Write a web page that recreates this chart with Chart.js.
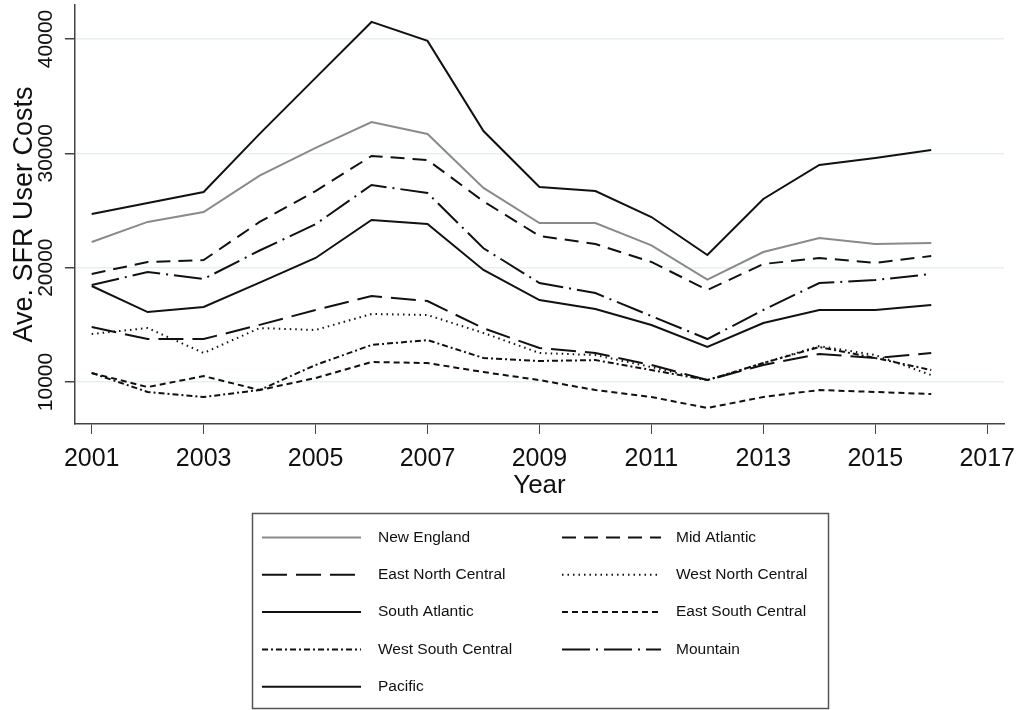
<!DOCTYPE html>
<html>
<head>
<meta charset="utf-8">
<script src="https://cdn.jsdelivr.net/npm/chart.js@4.4.0/dist/chart.umd.min.js"></script>
<style>
  html, body { margin: 0; padding: 0; background: #fff; }
  #wrap { width: 1021px; height: 710px; }
</style>
</head>
<body>
<div id="wrap"><canvas id="chart" width="1021" height="710"></canvas></div>
<script>
// data
const years = [2001, 2002, 2003, 2004, 2005, 2006, 2007, 2008, 2009, 2010, 2011, 2012, 2013, 2014, 2015, 2016];
const newEngland       = [22250, 24000, 24870, 28050, 30470, 32740, 31690, 26970, 23900, 23900, 21950, 18950, 21370, 22600, 22070, 22160];
const midAtlantic      = [19450, 20500, 20670, 24000, 26700, 29770, 29420, 25800, 22770, 22070, 20500, 18050, 20320, 20850, 20410, 21020];
const eastNorthCentral = [14810, 13760, 13760, 15000, 16300, 17520, 17080, 14700, 12970, 12540, 11490, 10170, 11490, 12450, 12100, 12540];
const westNorthCentral = [14200, 14720, 12540, 14720, 14550, 15950, 15860, 14290, 12540, 12360, 11310, 10170, 11660, 13150, 12360, 10610];
const southAtlantic    = [18400, 16120, 16560, 18700, 20850, 24170, 23820, 19800, 17170, 16380, 14990, 13060, 15160, 16300, 16300, 16730];
const eastSouthCentral = [10790, 9560, 10520, 9300, 10350, 11750, 11660, 10870, 10170, 9300, 8690, 7730, 8690, 9300, 9130, 8950];
const westSouthCentral = [10790, 9130, 8690, 9300, 11490, 13240, 13670, 12100, 11840, 11920, 11050, 10170, 11660, 13060, 12100, 11050];
const mountain         = [18480, 19620, 19010, 21500, 23800, 27230, 26530, 21700, 18660, 17780, 15770, 13760, 16300, 18660, 18920, 19450];
const pacific          = [24700, 25660, 26620, 31700, 36600, 41490, 39830, 31950, 27060, 26700, 24430, 21110, 26010, 28980, 29590, 30290];

const xTicks = [2001, 2003, 2005, 2007, 2009, 2011, 2013, 2015, 2017];
const yTicks = [10000, 20000, 30000, 40000];

const FONT = '"Liberation Sans", Arial, sans-serif';
const INK = '#111';

function pts(vals) {
    return vals.map((v, i) => ({ x: years[i], y: v }));
}

function series(label, vals, color, dash) {
    return {
        label: label,
        data: pts(vals),
        borderColor: color,
        borderWidth: 2,
        borderDash: dash,
        pointRadius: 0,
        tension: 0,
        fill: false
    };
}

const datasets = [
    series('New England', newEngland, '#8a8a8a', []),
    series('Mid Atlantic', midAtlantic, INK, [14, 8]),
    series('East North Central', eastNorthCentral, INK, [25, 9]),
    series('West North Central', westNorthCentral, INK, [1.5, 4]),
    series('South Atlantic', southAtlantic, INK, []),
    series('East South Central', eastSouthCentral, INK, [6, 4]),
    series('West South Central', westSouthCentral, INK, [6, 3, 2, 3]),
    series('Mountain', mountain, INK, [28, 6, 2, 6]),
    series('Pacific', pacific, INK, [])
];

// y tick labels are rotated, drawn by hand at the scale's tick positions
const yLabelPlugin = {
    id: 'yLabels',
    afterDraw(chart) {
        const ctx = chart.ctx;
        const ys = chart.scales.y;
        ctx.save();
        ctx.fillStyle = INK;
        ctx.font = '21px ' + FONT;
        ctx.textAlign = 'center';
        ctx.textBaseline = 'middle';
        ys.ticks.forEach(t => {
            const py = ys.getPixelForValue(t.value);
            ctx.save();
            ctx.translate(ys.right - 29, py);
            ctx.rotate(-Math.PI / 2);
            ctx.fillText(String(t.value), 0, 0);
            ctx.restore();
        });
        ctx.restore();
    }
};

// boxed two-column legend under the plot
const boxLegend = {
    id: 'boxLegend',
    afterDraw(chart) {
        const ctx = chart.ctx;
        ctx.save();
        ctx.strokeStyle = '#555';
        ctx.lineWidth = 1.5;
        ctx.strokeRect(252.5, 513.5, 576, 195);
        ctx.font = '15.5px ' + FONT;
        ctx.textBaseline = 'middle';
        ctx.textAlign = 'left';
        chart.data.datasets.forEach((ds, i) => {
            const col = i % 2, row = Math.floor(i / 2);
            const x0 = col === 0 ? 262 : 562;
            const y = 537.5 + row * 37.3;
            ctx.strokeStyle = ds.borderColor;
            ctx.lineWidth = ds.borderWidth;
            ctx.setLineDash(ds.borderDash);
            ctx.beginPath();
            ctx.moveTo(x0, y);
            ctx.lineTo(x0 + 99, y);
            ctx.stroke();
            ctx.setLineDash([]);
            ctx.fillStyle = INK;
            ctx.fillText(ds.label, col === 0 ? 378 : 676, y);
        });
        ctx.restore();
    }
};

new Chart(document.getElementById('chart'), {
    type: 'line',
    data: { datasets: datasets },
    options: {
        responsive: false,
        animation: false,
        layout: { padding: { top: 5, right: 17, bottom: 211.5, left: 0 } },
        plugins: {
            legend: { display: false },
            tooltip: { enabled: false }
        },
        scales: {
            x: {
                type: 'linear',
                min: 2000.7,
                max: 2017.3,
                afterBuildTicks: s => { s.ticks = xTicks.map(v => ({ value: v })); },
                // let the 2017 label hang past the axis end, as in the original
                afterFit: s => { s.paddingRight = 0; s.paddingLeft = 0; },
                grid: { drawOnChartArea: false, drawTicks: true, tickLength: 10, tickColor: '#444' },
                border: { display: true, color: '#444', width: 1.5 },
                ticks: {
                    color: INK,
                    font: { family: FONT, size: 25, lineHeight: 0.88 },
                    padding: 14,
                    maxRotation: 0,
                    autoSkip: false,
                    callback: v => String(v)
                },
                title: {
                    display: true,
                    text: 'Year',
                    color: INK,
                    font: { family: FONT, size: 26, lineHeight: 1.0 },
                    padding: { top: -11.5, bottom: 0 }
                }
            },
            y: {
                type: 'linear',
                min: 6330,
                max: 42970,
                afterBuildTicks: s => { s.ticks = yTicks.map(v => ({ value: v })); },
                grid: { color: '#e6eff1', lineWidth: 1.5, drawTicks: true, tickLength: 10, tickColor: '#444' },
                border: { display: true, color: '#444', width: 1.5 },
                ticks: { display: false },
                title: {
                    display: true,
                    text: 'Ave. SFR User Costs',
                    color: INK,
                    font: { family: FONT, size: 27 },
                    padding: { top: 8, bottom: 24.5 }
                }
            }
        }
    },
    plugins: [yLabelPlugin, boxLegend]
});
</script>
</body>
</html>
